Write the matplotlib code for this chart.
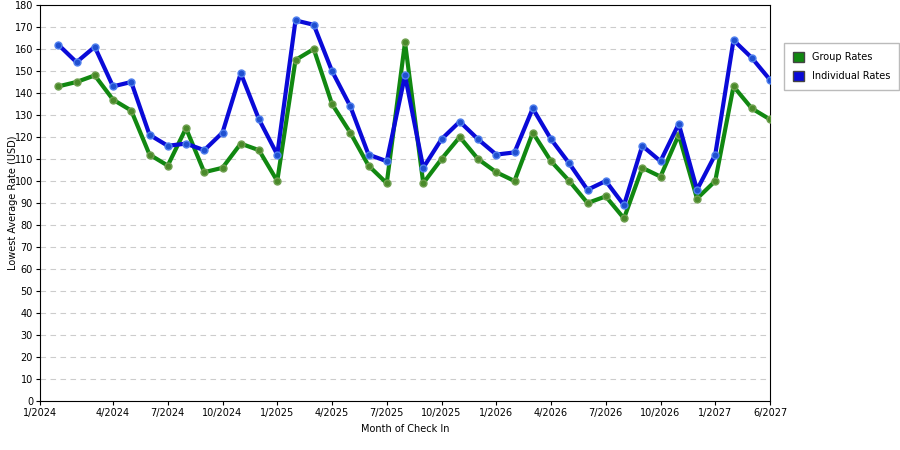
import matplotlib
matplotlib.use("Agg")
import matplotlib.pyplot as plt
from matplotlib.patches import Patch

tick_labels = ["1/2024","4/2024","7/2024","10/2024","1/2025","4/2025","7/2025","10/2025",
               "1/2026","4/2026","7/2026","10/2026","1/2027","6/2027"]
tick_pos = [0,4,7,10,13,16,19,22,25,28,31,34,37,40]
x = list(range(1, 41))
individual = [162,154,161,143,145,121,116,117,114,122,149,128,112,173,171,150,134,112,109,148,
              106,119,127,119,112,113,133,119,108,96,100,89,116,109,126,96,112,164,156,146]
group = [143,145,148,137,132,112,107,124,104,106,117,114,100,155,160,135,122,107,99,163,
         99,110,120,110,104,100,122,109,100,90,93,83,106,102,121,92,100,143,133,128]

fig = plt.figure(figsize=(9, 4.5), dpi=100)
ax = fig.add_axes([40/900, 1-401/450, 730/900, 396/450])
ax.plot(x, group, color="#118811", lw=3, marker="o", ms=5, mfc="#4a8a2a", mec="#6fa050", zorder=3)
ax.plot(x, individual, color="#0a0ad8", lw=3, marker="o", ms=5, mfc="#2050d0", mec="#5080ee", zorder=4)
ax.set_xlim(0, 40)
ax.set_ylim(0, 180)
ax.set_yticks(range(0, 181, 10))
ax.set_xticks(tick_pos)
ax.set_xticklabels(tick_labels)
ax.tick_params(labelsize=7, length=3, pad=2)
ax.grid(axis="y", ls=(0, (5, 4)), color="#cccccc", lw=0.8)
ax.set_axisbelow(True)
ax.set_xlabel("Month of Check In", fontsize=7)
ax.set_ylabel("Lowest Average Rate (USD)", fontsize=7)
ax.yaxis.set_label_coords(-22/730, 0.5)
handles = [Patch(facecolor="#118811", edgecolor="#444"), Patch(facecolor="#0a0ad8", edgecolor="#444")]
fig.legend(handles, ["Group Rates", "Individual Rates"], loc="upper left",
           bbox_to_anchor=(779/900, 1-38/450), fontsize=7, fancybox=False,
           edgecolor="#aaaaaa", handlelength=1.2, handleheight=1.2,
           borderpad=0.9, labelspacing=0.9)
fig.savefig("out.png")
